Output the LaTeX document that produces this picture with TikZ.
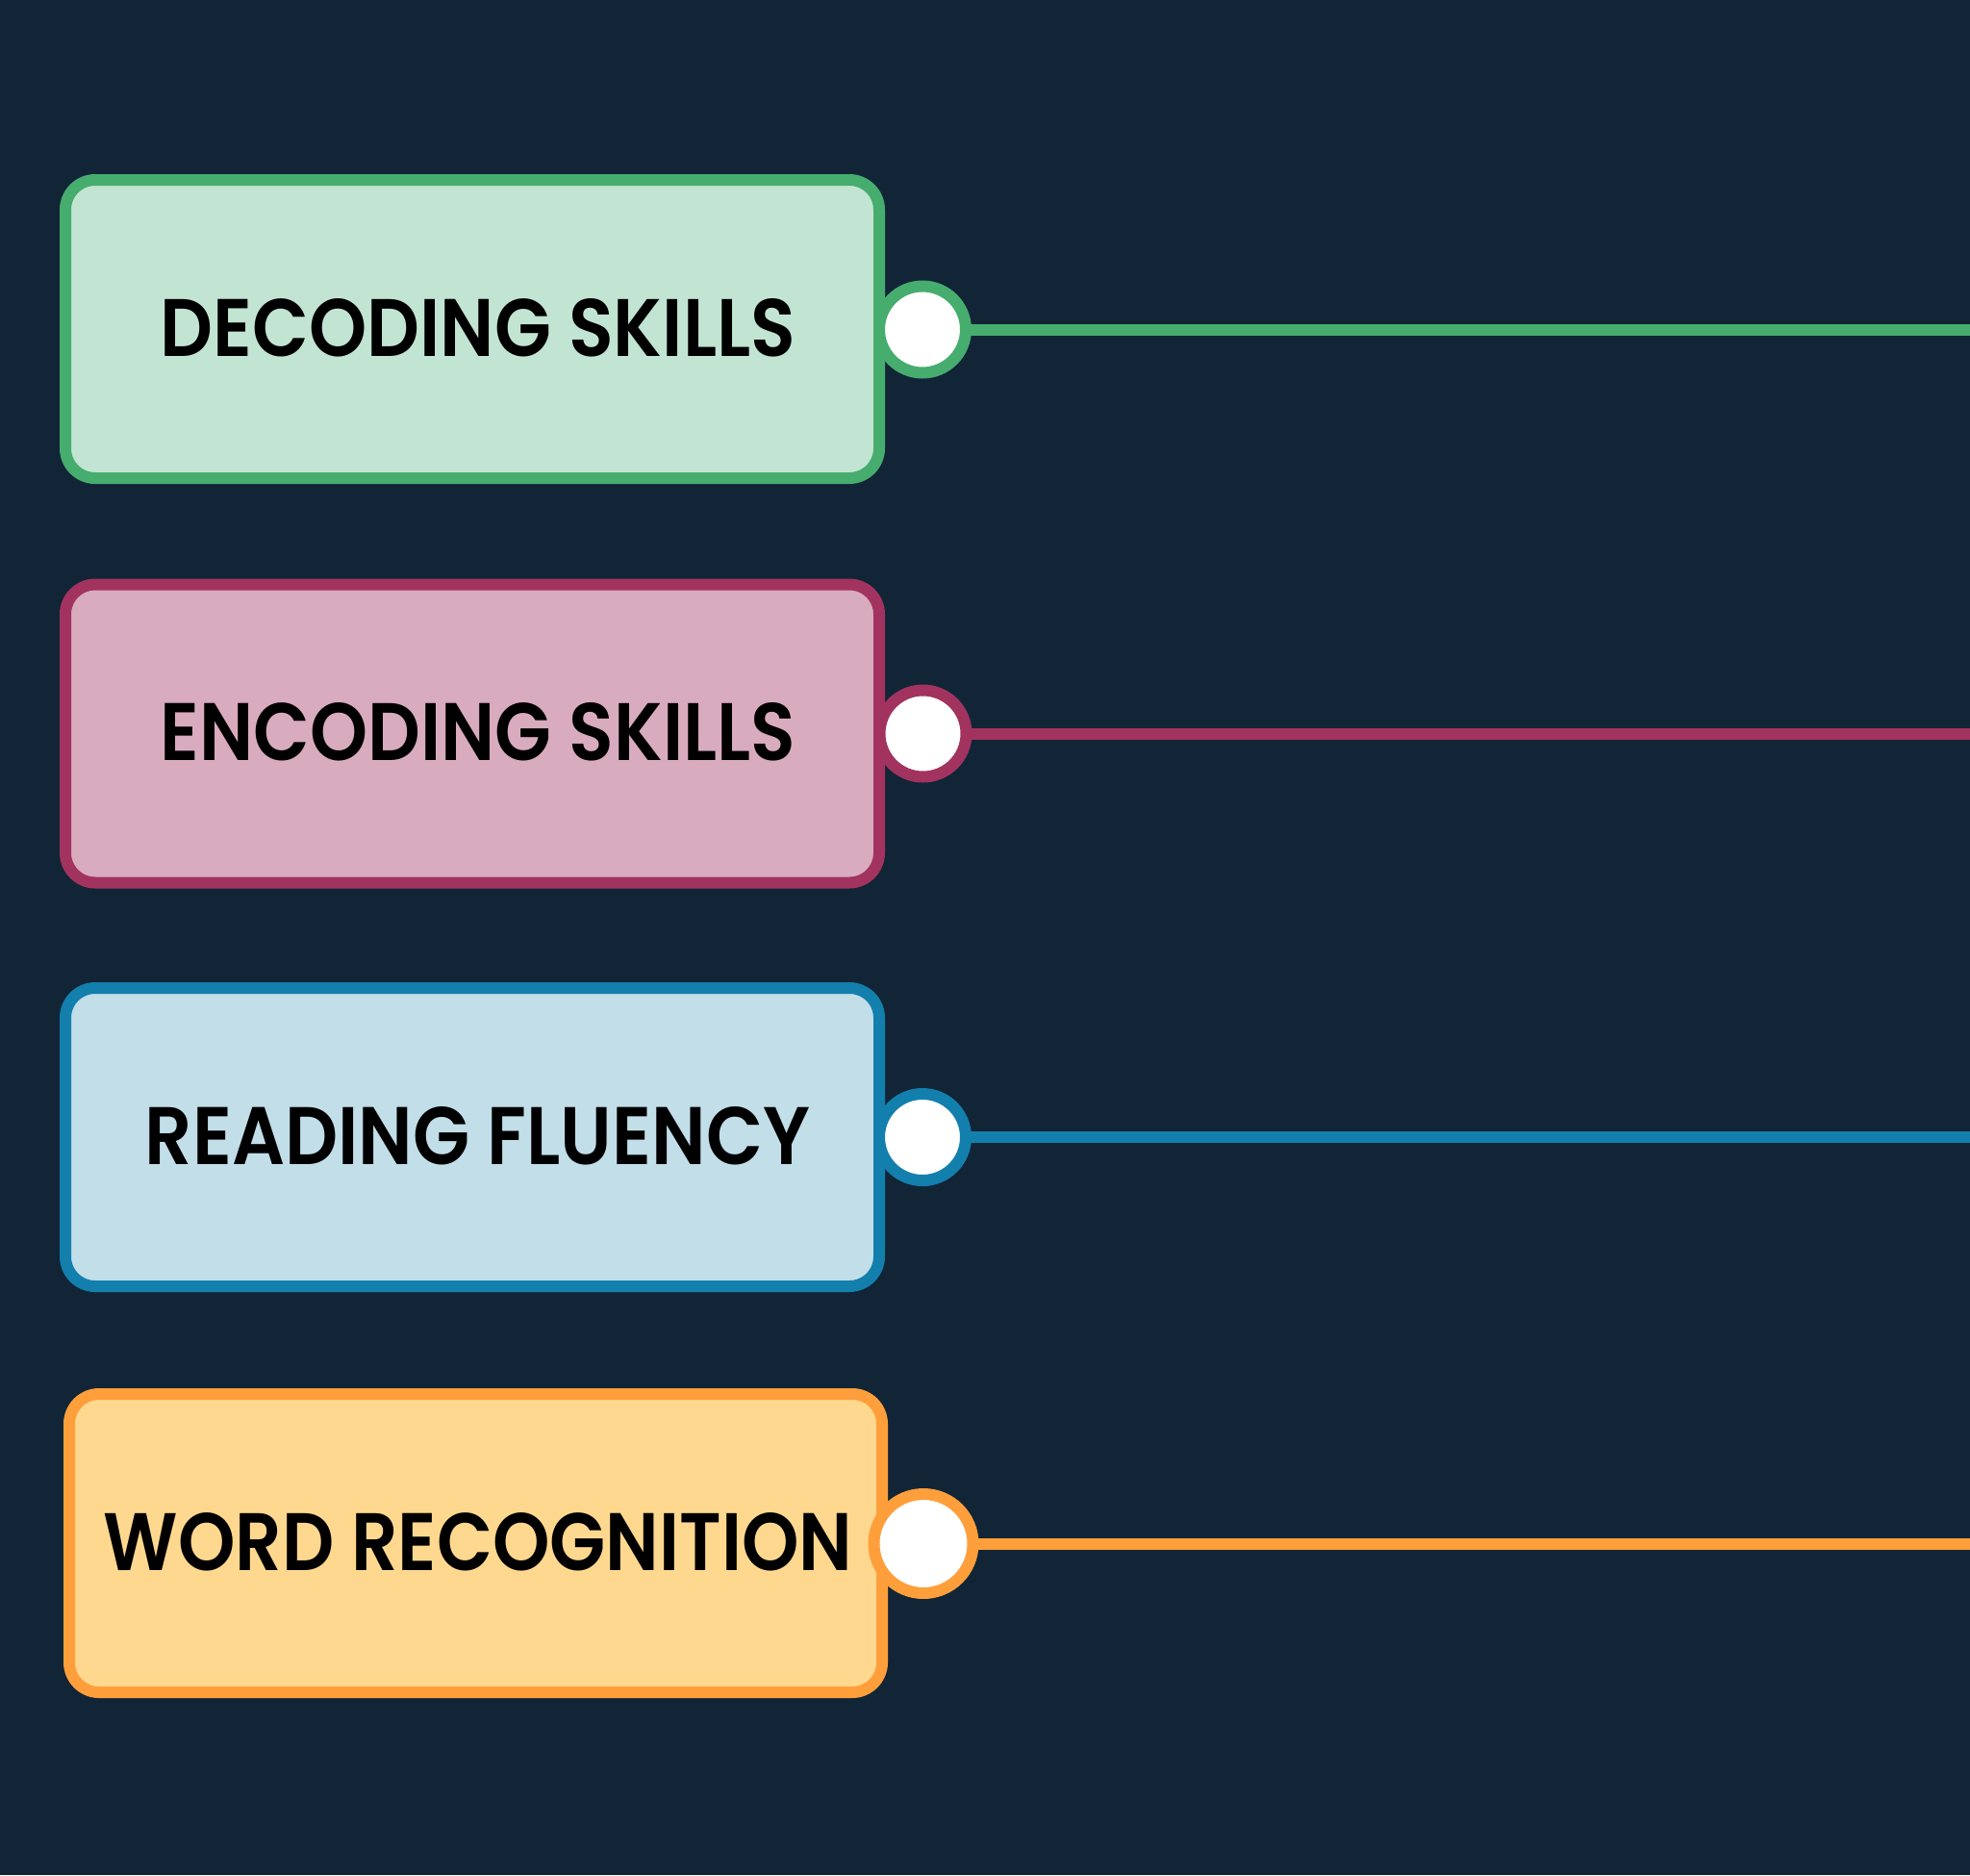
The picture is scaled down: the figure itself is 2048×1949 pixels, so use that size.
\documentclass[tikz,border=0pt]{standalone}
\usepackage{fontspec}
\setmainfont{Poppins}[BoldFont={* SemiBold}]
\definecolor{bgnavy}{HTML}{112537}
\definecolor{grnline}{HTML}{46AD6E}
\definecolor{grnfill}{HTML}{C2E4D2}
\definecolor{magline}{HTML}{A2335F}
\definecolor{magfill}{HTML}{D9ABBE}
\definecolor{bluline}{HTML}{137FAD}
\definecolor{blufill}{HTML}{C2DEE8}
\definecolor{orgline}{HTML}{FF9F3B}
\definecolor{orgfill}{HTML}{FFD88F}
\newcommand{\skilltext}[2]{\resizebox{#1pt}{60pt}{\bfseries #2}}
\tikzset{
  skillbox/.style={draw=#1line, fill=#1fill, line width=12pt, rounded corners=31pt,
    minimum width=846pt, minimum height=310pt, inner sep=0pt, outer sep=0pt},
  skilllabel/.style={inner sep=0pt, outer sep=0pt, text=black, anchor=center},
  knob/.style={circle, draw=#1line, fill=white, line width=12pt, minimum size=90pt,
    inner sep=0pt, outer sep=0pt},
  wire/.style={draw=#1line, line width=12pt}
}
\begin{document}
\begin{tikzpicture}[x=1pt, y=-1pt]
  \fill[bgnavy] (0,0) rectangle (2048,1949);
  \useasboundingbox (0,0) rectangle (2048,1949);

  % right-hand edge where every wire leaves the picture
  \coordinate (edge) at (2048,0);

  % skill boxes
  \node[skillbox=grn] (b1) at (491,342) {};
  \node[skillbox=mag] (b2) at (491,762.5) {};
  \node[skillbox=blu] (b3) at (491,1182) {};
  \node[skillbox=org, minimum width=845pt] (b4) at (494.5,1604) {};

  % labels
  \node[skilllabel] (t1) at (497,340.5) {\skilltext{660}{DECODING SKILLS}};
  \node[skilllabel] (t2) at (497,761) {\skilltext{660}{ENCODING SKILLS}};
  \node[skilllabel] (t3) at (496.5,1180.5) {\skilltext{691}{READING FLUENCY}};
  \node[skilllabel] (t4) at (497,1603) {\skilltext{778}{WORD RECOGNITION}};

  % connector knobs
  \node[knob=grn] (k1) at (959,342.5) {};
  \node[knob=mag] (k2) at (959.5,762.5) {};
  \node[knob=blu] (k3) at (959,1182) {};
  \node[knob=org, minimum size=103pt] (k4) at (960,1604.5) {};

  % wires
  \draw[wire=grn] (k1.east) -- (k1.east -| edge);
  \draw[wire=mag] (k2.east) -- (k2.east -| edge);
  \draw[wire=blu] (k3.east) -- (k3.east -| edge);
  \draw[wire=org] (k4.east) -- (k4.east -| edge);
\end{tikzpicture}
\end{document}
